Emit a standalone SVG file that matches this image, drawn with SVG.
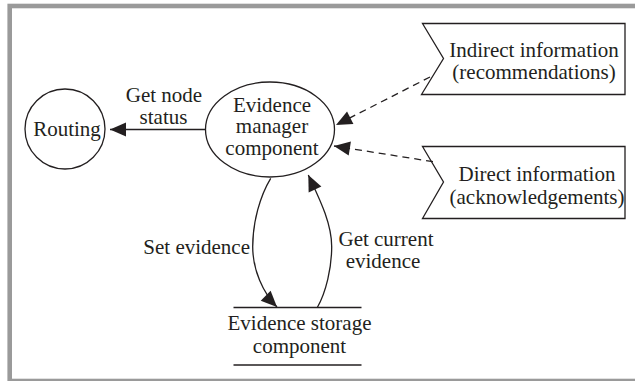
<svg xmlns="http://www.w3.org/2000/svg" width="635" height="381" viewBox="0 0 635 381">
<style>
text{font-family:"Liberation Serif","Times New Roman",serif;font-size:21px;fill:#231f20;text-anchor:middle}
.shape{fill:none;stroke:#231f20;stroke-width:1.3}
.conn{fill:none;stroke:#231f20;stroke-width:1.3}
.dash{stroke-dasharray:7 5}
</style>
<defs>
<marker id="ah" markerUnits="userSpaceOnUse" markerWidth="17" markerHeight="15" refX="16" refY="7" orient="auto" overflow="visible">
<path d="M0,0 L16,7 L0,14 z" fill="#231f20" stroke="none"/>
</marker>
</defs>
<rect x="9.7" y="6" width="640" height="375" fill="#fff" stroke="#9a9a9a" stroke-width="4.6"/>
<g id="routing">
<circle class="shape" cx="65" cy="129" r="40"/>
<text x="67" y="136">Routing</text>
</g>
<g id="evidence-manager">
<ellipse class="shape" cx="270" cy="129.5" rx="64.5" ry="47.5"/>
<text x="272" y="111.5">Evidence</text>
<text x="272" y="133">manager</text>
<text x="272" y="154.5">component</text>
</g>
<g id="indirect">
<path class="shape" d="M422.5,23.5 L625,23.5 L625,94.5 L421.5,94.5 L443.5,58.5 Z"/>
<text x="534" y="56.5">Indirect information</text>
<text x="534" y="78.5">(recommendations)</text>
</g>
<g id="direct">
<path class="shape" d="M422.5,146.5 L625,146.5 L625,218.5 L422.5,218.5 L443.5,182 Z"/>
<text x="537" y="180.5">Direct information</text>
<text x="537" y="203.5">(acknowledgements)</text>
</g>
<g id="evidence-storage">
<line class="shape" x1="233.5" y1="307.5" x2="361.5" y2="307.5"/>
<line class="shape" x1="233.5" y1="365" x2="361.5" y2="365"/>
<text x="299.5" y="330">Evidence storage</text>
<text x="299.5" y="353.3">component</text>
</g>
<g id="connectors">
<line class="conn" x1="205.5" y1="129.5" x2="110" y2="129.5" marker-end="url(#ah)"/>
<line class="conn dash" x1="430" y1="77" x2="336" y2="125" marker-end="url(#ah)"/>
<line class="conn dash" x1="433" y1="161.7" x2="334" y2="146" marker-end="url(#ah)"/>
<path class="conn" d="M270.7,178.3 C260,196 252.7,222 252.7,246.7 C252.7,270 263,293 277,307" marker-end="url(#ah)"/>
<path class="conn" d="M317.3,307.5 C326,292 331.7,268 331.7,246.7 C331.7,222 318,196 308.3,175" marker-end="url(#ah)"/>
<text x="164" y="101.5">Get node</text>
<text x="163.5" y="124">status</text>
<text x="250" y="254" style="text-anchor:end">Set evidence</text>
<text x="386" y="246">Get current</text>
<text x="383" y="267.5">evidence</text>
</g>
</svg>
